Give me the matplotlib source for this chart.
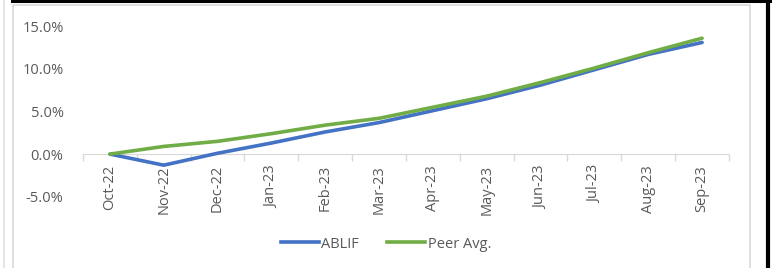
import matplotlib
matplotlib.use('Agg')
from matplotlib import pyplot as plt
from matplotlib.lines import Line2D
from matplotlib.patches import Rectangle
import numpy as np

months = ["Oct-22", "Nov-22", "Dec-22", "Jan-23", "Feb-23", "Mar-23",
          "Apr-23", "May-23", "Jun-23", "Jul-23", "Aug-23", "Sep-23"]
ablif = [0.0, -1.3, 0.1, 1.3, 2.6, 3.7, 5.1, 6.5, 8.1, 9.9, 11.7, 13.1]
peer_avg = [0.0, 0.9, 1.5, 2.4, 3.4, 4.2, 5.5, 6.8, 8.4, 10.1, 11.9, 13.6]
yticks = [-5, 0, 5, 10, 15]

plt.rcParams['font.family'] = ['Open Sans', 'DejaVu Sans']
grey_txt = '#595959'
fs = 10.5

fig = plt.figure(figsize=(7.75, 2.68), dpi=100)
ax = fig.add_axes([83 / 775, 1 - 196.7 / 268, (729 - 83) / 775, (196.7 - 26.3) / 268])

x = np.arange(len(months))
ax.plot(x, ablif, color='#4472C4', lw=2.6, solid_capstyle='round', label='ABLIF', zorder=3)
ax.plot(x, peer_avg, color='#70AD47', lw=2.6, solid_capstyle='round', label='Peer Avg.', zorder=4)

ax.set_xlim(-0.5, len(months) - 0.5)
ax.set_ylim(-5, 15)
ax.set_yticks(yticks)
ax.set_yticklabels([f"{v:.1f}%" for v in yticks], color=grey_txt, fontsize=fs)
ax.tick_params(axis='y', length=0, pad=14)

# category labels on minor ticks, tick marks between categories
ax.set_xticks(np.arange(len(months) + 1) - 0.5)
ax.set_xticklabels([])
ax.set_xticks(x, minor=True)
ax.set_xticklabels(months, minor=True)
ax.tick_params(axis='x', which='major', length=5, color='#d9d9d9', width=1)
ax.tick_params(axis='x', which='minor', length=0, pad=8, labelrotation=90,
               labelcolor=grey_txt, labelsize=fs)

for s in ['top', 'right', 'left']:
    ax.spines[s].set_visible(False)
ax.spines['bottom'].set_position(('data', 0))
ax.spines['bottom'].set_color('#d9d9d9')

handles = [Line2D([], [], color='#4472C4', lw=2.6),
           Line2D([], [], color='#70AD47', lw=2.6)]
fig.legend(handles, ['ABLIF', 'Peer Avg.'], loc='center', bbox_to_anchor=(0.498, 1 - 244 / 268),
           ncol=2, frameon=False, fontsize=fs, handlelength=2.6, handletextpad=0.2,
           columnspacing=1.9, labelcolor=grey_txt)

# chart frame and page borders
W, H = 775, 268
fig.add_artist(Rectangle((13 / W, -0.1), (750 - 13) / W, 1.1 - 5 / H, transform=fig.transFigure,
                         fill=False, ec='#d9d9d9', lw=1.2))
fig.add_artist(Line2D([3.5 / W, 3.5 / W], [0, 1], transform=fig.transFigure, color='#e0e0e0', lw=1.2))
fig.add_artist(Line2D([12 / W, 770 / W], [1 - 1 / H, 1 - 1 / H], transform=fig.transFigure,
                      color='black', lw=2.2))
fig.add_artist(Line2D([768 / W, 768 / W], [0, 1], transform=fig.transFigure, color='black', lw=3))

fig.savefig('out.png', dpi=100)
